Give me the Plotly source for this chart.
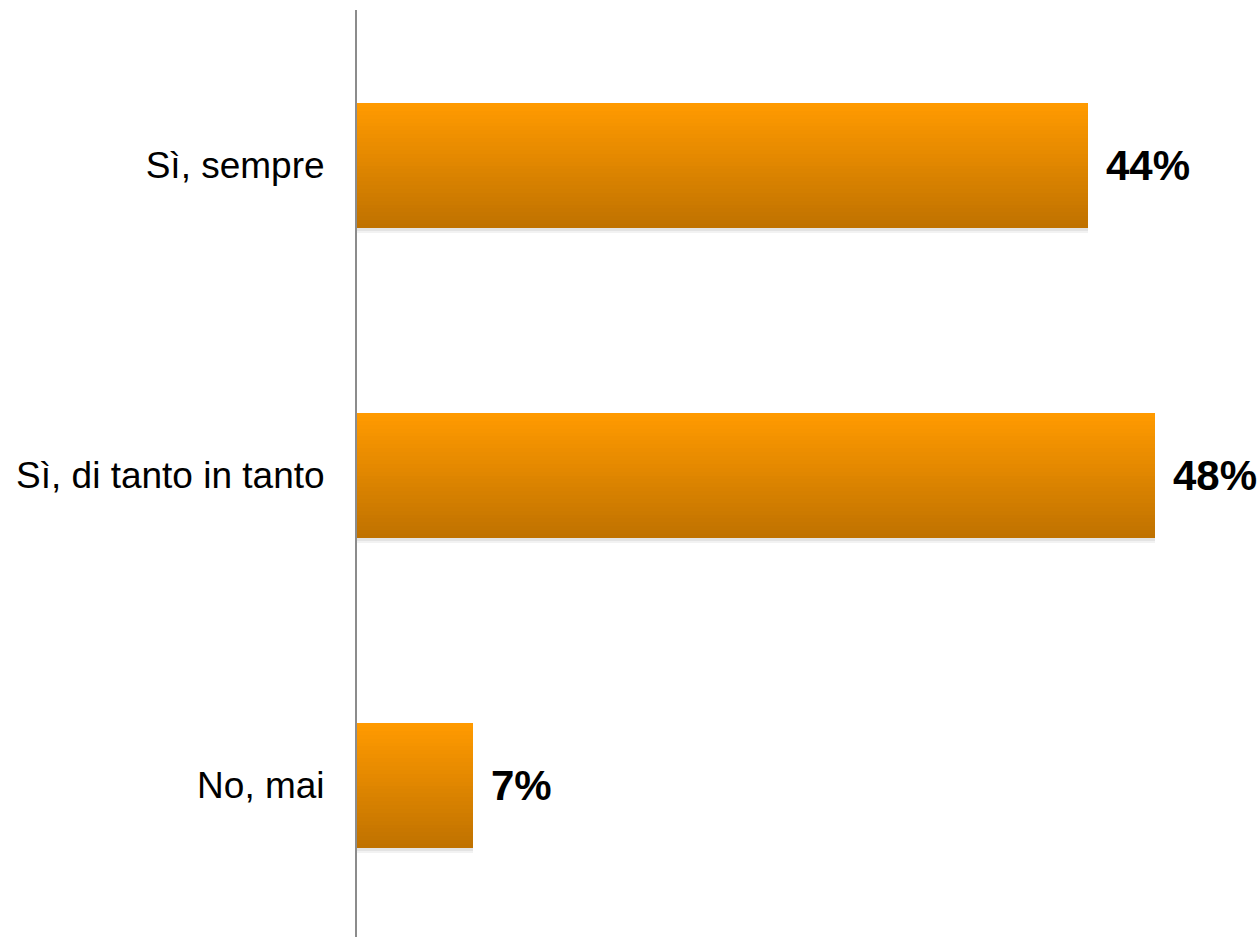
import plotly.graph_objects as go

categories = ["Sì, sempre", "Sì, di tanto in tanto", "No, mai"]
values = [44, 48, 7]
value_labels = ["44%", "48%", "7%"]

TOP_COLOR = (255, 154, 0)
BOTTOM_COLOR = (192, 114, 0)
N_STEPS = 32
BAR_W = 0.403

fig = go.Figure()

# soft shadow beneath bars
for dy, alpha in [(0.016, 0.05), (0.010, 0.06)]:
    fig.add_trace(go.Bar(
        y=categories, x=values, orientation="h",
        width=BAR_W, offset=-BAR_W / 2 + dy,
        marker=dict(color=f"rgba(0,0,0,{alpha})", line=dict(width=0)),
        hoverinfo="skip", showlegend=False,
    ))

# vertical gradient built from overlaid bars sharing the top edge
for k in range(N_STEPS):
    t = k / (N_STEPS - 1)
    r = round(BOTTOM_COLOR[0] + (TOP_COLOR[0] - BOTTOM_COLOR[0]) * t)
    g = round(BOTTOM_COLOR[1] + (TOP_COLOR[1] - BOTTOM_COLOR[1]) * t)
    b = round(BOTTOM_COLOR[2] + (TOP_COLOR[2] - BOTTOM_COLOR[2]) * t)
    w = BAR_W * (1 - k / N_STEPS)
    fig.add_trace(go.Bar(
        y=categories, x=values, orientation="h",
        width=w, offset=-BAR_W / 2,
        marker=dict(color=f"rgb({r},{g},{b})", line=dict(width=0)),
        hoverinfo="skip" if k else "x+y", showlegend=False,
    ))

for cat, v, lab in zip(categories, values, value_labels):
    fig.add_annotation(
        x=v, y=cat, text=f"<b>{lab}</b>", showarrow=False,
        xanchor="left", yanchor="middle", xshift=16,
        font=dict(family="Liberation Sans, Arial, sans-serif", size=42, color="#000000"),
    )

fig.update_layout(
    width=1258, height=937,
    margin=dict(l=357, r=0, t=10, b=0),
    paper_bgcolor="white", plot_bgcolor="white",
    barmode="overlay", bargap=0,
    showlegend=False,
    font=dict(family="Liberation Sans, Arial, sans-serif", size=37, color="#000000"),
    xaxis=dict(range=[0, 54.2], visible=False, showgrid=False, zeroline=False, fixedrange=True),
    yaxis=dict(
        type="category", categoryorder="array", categoryarray=categories,
        range=[2.4887, -0.5016],
        showline=True, linecolor="#8c8c8c", linewidth=2,
        showgrid=False, zeroline=False, ticks="",
        ticklabelstandoff=23,
        tickfont=dict(family="Liberation Sans, Arial, sans-serif", size=37, color="#000000"),
    ),
)

fig.write_html("out.html")
